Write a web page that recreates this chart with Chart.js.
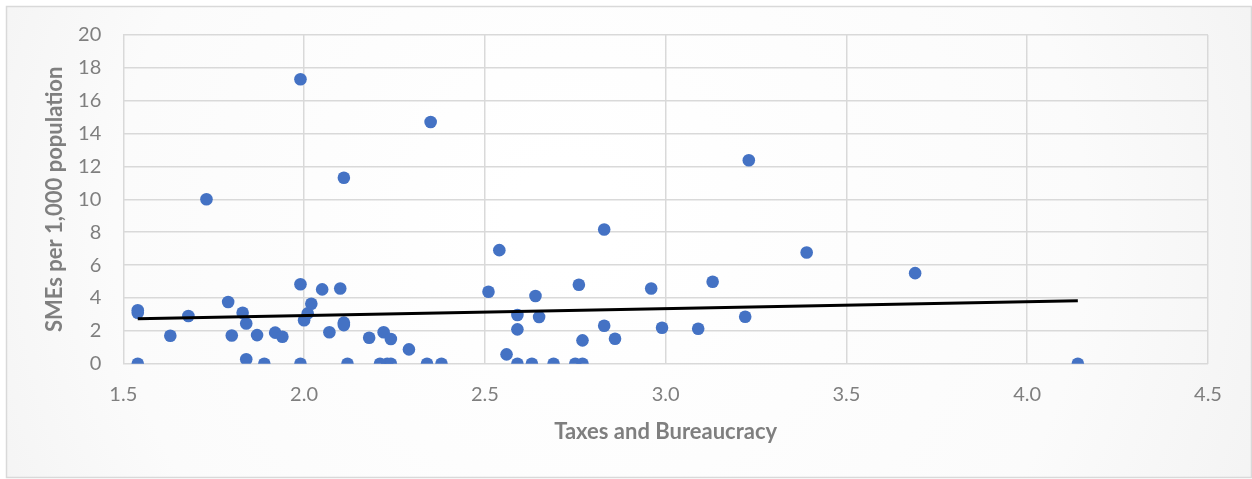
<!DOCTYPE html>
<html>
<head>
<meta charset="utf-8">
<script src="https://cdn.jsdelivr.net/npm/chart.js@4.4.1/dist/chart.umd.min.js"></script>
<style>
  html, body { margin: 0; padding: 0; background: #ffffff; }
  #wrap { width: 1252px; height: 479px; position: relative; }
</style>
</head>
<body>
<div id="wrap"><canvas id="chart" width="1252" height="479"></canvas></div>
<script>
"use strict";

// Taxes and Bureaucracy (x) vs SMEs per 1,000 population (y)
const taxes = [
    1.54, 1.54, 1.54, 1.63, 1.68, 1.73, 1.79, 1.80, 1.83, 1.84,
    1.84, 1.87, 1.89, 1.92, 1.94, 1.99, 1.99, 1.99, 2.00, 2.01,
    2.02, 2.05, 2.07, 2.10, 2.11, 2.11, 2.11, 2.12, 2.18, 2.21,
    2.22, 2.23, 2.24, 2.24, 2.29, 2.34, 2.35, 2.38, 2.51, 2.54,
    2.56, 2.59, 2.59, 2.59, 2.63, 2.64, 2.65, 2.69, 2.75, 2.76,
    2.77, 2.77, 2.83, 2.83, 2.86, 2.96, 2.99, 3.09, 3.13, 3.22,
    3.23, 3.39, 3.69, 4.14
];
const smes = [
    3.25, 3.10, 0.00, 1.70, 2.90, 10.01, 3.75, 1.72, 3.10, 2.45,
    0.27, 1.74, 0.00, 1.89, 1.64, 17.31, 4.83, 0.00, 2.64, 3.06,
    3.65, 4.52, 1.91, 4.58, 2.50, 2.35, 11.31, 0.00, 1.58, 0.00,
    1.91, 0.00, 0.00, 1.50, 0.87, 0.00, 14.71, 0.00, 4.38, 6.91,
    0.57, 2.96, 2.09, 0.00, 0.00, 4.12, 2.84, 0.00, 0.00, 4.80,
    0.00, 1.42, 2.31, 8.17, 1.52, 4.58, 2.19, 2.13, 4.99, 2.86,
    12.38, 6.77, 5.51, 0.00
];

// linear trendline end points
const trendX = [1.54, 4.14];
const trendY = [2.74, 3.83];

const xMin = 1.5, xMax = 4.5, xStep = 0.5;
const yMin = 0, yMax = 20, yStep = 2;

const points = taxes.map(function(x, i) { return { x: x, y: smes[i] }; });
const trend = trendX.map(function(x, i) { return { x: x, y: trendY[i] }; });

const fontFamily = "Lato, 'Open Sans', sans-serif";
const greyText = "#7f7f7f";
const gridColor = "#d9d9d9";

// soft background and thin frame like the spreadsheet chart box
const framePlugin = {
    id: "frame",
    beforeDraw: function(chart) {
        const ctx = chart.ctx;
        const w = chart.width, h = chart.height;
        ctx.save();
        const g = ctx.createRadialGradient(w * 0.45, h * 0.45, 50, w * 0.5, h * 0.5, w * 0.62);
        g.addColorStop(0, "#ffffff");
        g.addColorStop(0.6, "#fbfbfb");
        g.addColorStop(1, "#f0f0f0");
        ctx.fillStyle = g;
        ctx.fillRect(6, 6, w - 7, h - 7);
        ctx.strokeStyle = "#d9d9d9";
        ctx.lineWidth = 1.5;
        ctx.strokeRect(6.5, 6.5, w - 7, h - 8);
        ctx.restore();
    }
};

let chartHtml = document.getElementById("chart");
let chart = new Chart(chartHtml, {
    type: "scatter",
    data: {
        datasets: [{
            label: "Trend",
            type: "line",
            data: trend,
            borderColor: "#000000",
            borderWidth: 3,
            pointRadius: 0,
            fill: false,
            order: 0
        }, {
            label: "SMEs",
            data: points,
            backgroundColor: "#4472c4",
            borderColor: "#4472c4",
            pointRadius: 6.3,
            pointBorderWidth: 0,
            order: 1
        }]
    },
    options: {
        responsive: false,
        animation: false,
        events: [],
        layout: { padding: { left: 8, right: 44, top: 35, bottom: 0 } },
        plugins: {
            legend: { display: false },
            tooltip: { enabled: false }
        },
        scales: {
            x: {
                type: "linear",
                min: xMin,
                max: xMax,
                afterFit: function(scale) { scale.height = 115.3; },
                ticks: {
                    stepSize: xStep,
                    padding: 19,
                    color: greyText,
                    font: { family: fontFamily, size: 20 },
                    callback: function(v) { return Number(v).toFixed(1); }
                },
                grid: { color: gridColor, lineWidth: 1.5, drawTicks: false },
                border: { display: false },
                title: {
                    display: true,
                    text: "Taxes and Bureaucracy",
                    color: greyText,
                    font: { family: fontFamily, size: 22, weight: "bold" },
                    padding: { top: 0, bottom: 34 }
                }
            },
            y: {
                type: "linear",
                min: yMin,
                max: yMax,
                afterFit: function(scale) { scale.width = 115.3; },
                ticks: {
                    stepSize: yStep,
                    padding: 22,
                    color: greyText,
                    font: { family: fontFamily, size: 20 }
                },
                grid: { color: gridColor, lineWidth: 1.5, drawTicks: false },
                border: { display: false },
                title: {
                    display: true,
                    text: "SMEs per 1,000 population",
                    color: greyText,
                    font: { family: fontFamily, size: 22, weight: "bold" },
                    padding: { top: 34, bottom: 0 }
                }
            }
        }
    },
    plugins: [framePlugin]
});
</script>
</body>
</html>
